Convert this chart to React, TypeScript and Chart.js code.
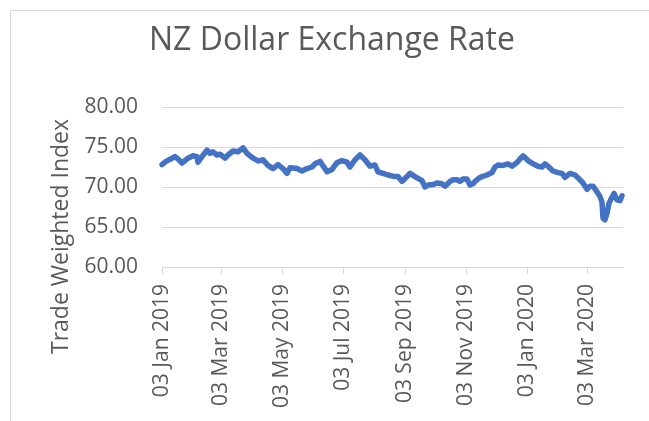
import React, { useEffect, useRef } from 'react';
import { Chart, registerables } from 'chart.js';

Chart.register(...registerables);

const chartTitle = 'NZ Dollar Exchange Rate';
const yAxisTitle = 'Trade Weighted Index';

const startDate = '2019-01-03';
const endDate = '2020-04-08';

// days elapsed since startDate
const daysSinceStart = [
  0, 4, 10, 13, 17, 20, 26, 31, 35, 36, 40, 45, 48, 51, 55, 58, 63, 66, 71, 76,
  81, 85, 90, 96, 101, 106, 111, 116, 121, 125, 128, 135, 140, 145, 150, 153, 158, 165, 170, 175,
  180, 185, 188, 193, 198, 203, 208, 213, 216, 221, 226, 233, 236, 240, 245, 248, 253, 260, 263, 266,
  271, 275, 280, 283, 288, 291, 295, 298, 301, 305, 308, 311, 313, 318, 325, 330, 333, 336, 341, 346,
  350, 355, 358, 361, 366, 371, 376, 380, 383, 386, 391, 396, 400, 403, 408, 413, 418, 421, 425, 428,
  431, 435, 438, 440, 441, 443, 445, 447, 450, 452, 455, 458, 460,
];

const twiValues = [
  72.8, 73.2, 73.6, 73.8, 73.4, 73.0, 73.6, 73.9, 73.8, 73.1, 73.8, 74.6, 74.2, 74.4, 74.0, 74.1, 73.6, 74.0, 74.5, 74.4,
  74.9, 74.2, 73.7, 73.25, 73.4, 72.7, 72.3, 72.8, 72.3, 71.7, 72.4, 72.3, 72.0, 72.3, 72.5, 72.9, 73.2, 71.9, 72.2, 73.05,
  73.3, 73.1, 72.5, 73.4, 74.0, 73.4, 72.6, 72.75, 71.9, 71.7, 71.5, 71.3, 71.3, 70.7, 71.3, 71.7, 71.3, 70.8, 70.0, 70.25,
  70.3, 70.5, 70.4, 70.1, 70.7, 70.9, 70.9, 70.7, 71.0, 71.0, 70.25, 70.4, 70.7, 71.2, 71.5, 71.8, 72.5, 72.75, 72.7, 72.9,
  72.6, 73.05, 73.5, 73.9, 73.3, 72.9, 72.6, 72.5, 72.9, 72.6, 72.0, 71.8, 71.7, 71.2, 71.7, 71.5, 70.9, 70.5, 69.7, 70.1,
  70.1, 69.4, 68.8, 68.1, 66.1, 65.9, 66.7, 68.0, 68.7, 69.2, 68.4, 68.3, 68.9,
];

const tickDates = [
  '2019-01-03', '2019-03-03', '2019-05-03', '2019-07-03',
  '2019-09-03', '2019-11-03', '2020-01-03', '2020-03-03',
];
const tickLabels = [
  '03 Jan 2019', '03 Mar 2019', '03 May 2019', '03 Jul 2019',
  '03 Sep 2019', '03 Nov 2019', '03 Jan 2020', '03 Mar 2020',
];

const yMin = 60;
const yMax = 80;
const yStep = 5;

const toUTC = (iso: string) => {
  const [y, m, d] = iso.split('-').map(Number);
  return Date.UTC(y, m - 1, d);
};
const dayOf = (iso: string) => Math.round((toUTC(iso) - toUTC(startDate)) / 86400000);

const FONT = '"Open Sans", "DejaVu Sans", sans-serif';
const TEXT_COLOR = '#595959';
const GRID_COLOR = '#d9d9d9';

const decorPlugin = {
  id: 'decor',
  beforeDraw(chart: any) {
    const ctx = chart.ctx;
    ctx.save();
    ctx.fillStyle = '#ffffff';
    ctx.fillRect(0, 0, chart.width, chart.height);
    ctx.strokeStyle = GRID_COLOR;
    ctx.lineWidth = 1;
    ctx.beginPath();
    ctx.moveTo(10.5, chart.height + 5);
    ctx.lineTo(10.5, 10.5);
    ctx.lineTo(chart.width + 5, 10.5);
    ctx.stroke();
    ctx.restore();
  },
  afterDraw(chart: any) {
    const ctx = chart.ctx;
    ctx.save();
    ctx.fillStyle = TEXT_COLOR;
    ctx.font = `32px ${FONT}`;
    ctx.textAlign = 'center';
    ctx.textBaseline = 'alphabetic';
    ctx.fillText(chartTitle, 332, 50);
    ctx.translate(61, 236.5);
    ctx.rotate(-Math.PI / 2);
    ctx.font = `23px ${FONT}`;
    ctx.textBaseline = 'middle';
    ctx.fillText(yAxisTitle, 0, 0);
    ctx.restore();
  },
};

export default function App() {
  const canvasRef = useRef<HTMLCanvasElement | null>(null);

  useEffect(() => {
    if (!canvasRef.current) return;
    const tickDays = tickDates.map(dayOf);
    const points = daysSinceStart.map((d, i) => ({ x: d, y: twiValues[i] }));
    const chart = new Chart(canvasRef.current, {
      type: 'line',
      data: {
        datasets: [
          {
            label: yAxisTitle,
            data: points,
            borderColor: '#4472C4',
            backgroundColor: '#4472C4',
            borderWidth: 5.5,
            borderCapStyle: 'round',
            borderJoinStyle: 'round',
            pointRadius: 0,
            tension: 0,
            clip: false as any,
          },
        ],
      },
      options: {
        animation: false,
        responsive: false,
        events: [],
        layout: { padding: { top: 107, right: 26, bottom: 0, left: 0 } },
        plugins: {
          legend: { display: false },
          tooltip: { enabled: false },
          title: { display: false },
        },
        scales: {
          x: {
            type: 'linear',
            min: 0,
            max: dayOf(endDate),
            afterBuildTicks: (scale: any) => {
              scale.ticks = tickDays.map((v) => ({ value: v }));
            },
            afterFit: (scale: any) => {
              scale.height = 154;
            },
            grid: {
              drawOnChartArea: false,
              drawTicks: true,
              tickLength: 7,
              color: GRID_COLOR,
            },
            border: { display: true, color: GRID_COLOR, width: 1 },
            ticks: {
              autoSkip: false,
              minRotation: 90,
              maxRotation: 90,
              padding: 10,
              color: TEXT_COLOR,
              font: { family: FONT, size: 21 },
              callback: (value: any) => {
                const idx = tickDays.indexOf(Number(value));
                return idx >= 0 ? tickLabels[idx] : '';
              },
            },
          },
          y: {
            type: 'linear',
            min: yMin,
            max: yMax,
            afterFit: (scale: any) => {
              scale.width = 162;
            },
            grid: { color: GRID_COLOR, drawTicks: false, lineWidth: 1 },
            border: { display: false },
            ticks: {
              stepSize: yStep,
              padding: 24,
              color: TEXT_COLOR,
              font: { family: FONT, size: 21 },
              callback: (value: any) => Number(value).toFixed(2),
            },
          },
        },
      },
      plugins: [decorPlugin],
    });
    return () => chart.destroy();
  }, []);

  return (
    <div style={{ position: 'fixed', left: 0, top: 0, width: 649, height: 421, background: '#fff' }}>
      <canvas ref={canvasRef} width={649} height={421} style={{ display: 'block' }} />
    </div>
  );
}
